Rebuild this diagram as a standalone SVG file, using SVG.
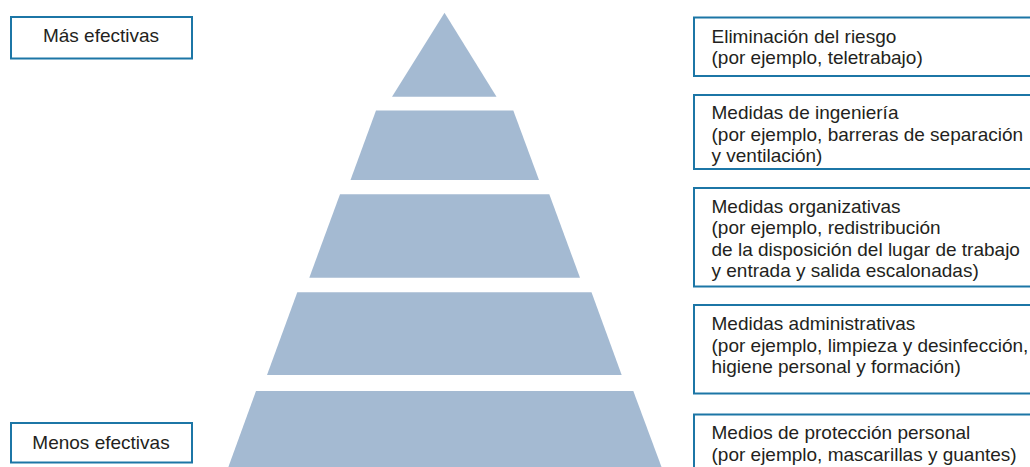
<svg xmlns="http://www.w3.org/2000/svg" width="1030" height="467" viewBox="0 0 1030 467">
<style>
.box{fill:#fff;stroke:#1c76a6;stroke-width:2}
.tier{fill:#a4bad2}
.t{font-family:"Liberation Sans",Arial,sans-serif;font-size:19px;fill:#231f20}
.c{text-anchor:middle}
</style>
<rect width="1030" height="467" fill="#fff"/>
<g id="pyramid">
<polygon id="tier1" class="tier" points="444.5,12.7 496.5,96.7 392,96.7"/>
<polygon id="tier2" class="tier" points="376,110.5 513.3,110.5 539,180 350.5,180"/>
<polygon id="tier3" class="tier" points="340,194.3 549.3,194.3 580,277.7 309.3,277.7"/>
<polygon id="tier4" class="tier" points="297.3,292.3 591.5,292.3 621.7,375 267,375"/>
<polygon id="tier5" class="tier" points="256,391 633.3,391 661.9,468 228,468"/>
</g>
<g id="mas-efectivas">
<rect class="box" x="11" y="17" width="181" height="41.5"/>
<text class="t c" x="101" y="41.5">Más efectivas</text>
</g>
<g id="menos-efectivas">
<rect class="box" x="11" y="423" width="181" height="39.5"/>
<text class="t c" x="101" y="449.3">Menos efectivas</text>
</g>
<g id="eliminacion">
<rect class="box" x="694" y="17.5" width="345" height="58.5"/>
<text class="t" x="711.5" y="42.5">Eliminación del riesgo</text>
<text class="t" x="711.5" y="63.8">(por ejemplo, teletrabajo)</text>
</g>
<g id="ingenieria">
<rect class="box" x="694" y="95" width="345" height="74"/>
<text class="t" x="711.5" y="119">Medidas de ingeniería</text>
<text class="t" x="711.5" y="140.5">(por ejemplo, barreras de separación</text>
<text class="t" x="711.5" y="162">y ventilación)</text>
</g>
<g id="organizativas">
<rect class="box" x="694" y="188" width="345" height="98.5"/>
<text class="t" x="711.5" y="212.5">Medidas organizativas</text>
<text class="t" x="711.5" y="234">(por ejemplo, redistribución</text>
<text class="t" x="711.5" y="255.5">de la disposición del lugar de trabajo</text>
<text class="t" x="711.5" y="277">y entrada y salida escalonadas)</text>
</g>
<g id="administrativas">
<rect class="box" x="694" y="305" width="345" height="88.5"/>
<text class="t" x="711.5" y="330">Medidas administrativas</text>
<text class="t" x="711.5" y="351.5">(por ejemplo, limpieza y desinfección,</text>
<text class="t" x="711.5" y="373">higiene personal y formación)</text>
</g>
<g id="proteccion">
<rect class="box" x="694" y="414.5" width="345" height="60"/>
<text class="t" x="711.5" y="439">Medios de protección personal</text>
<text class="t" x="711.5" y="460.5">(por ejemplo, mascarillas y guantes)</text>
</g>
<g id="connectors"></g>
</svg>
